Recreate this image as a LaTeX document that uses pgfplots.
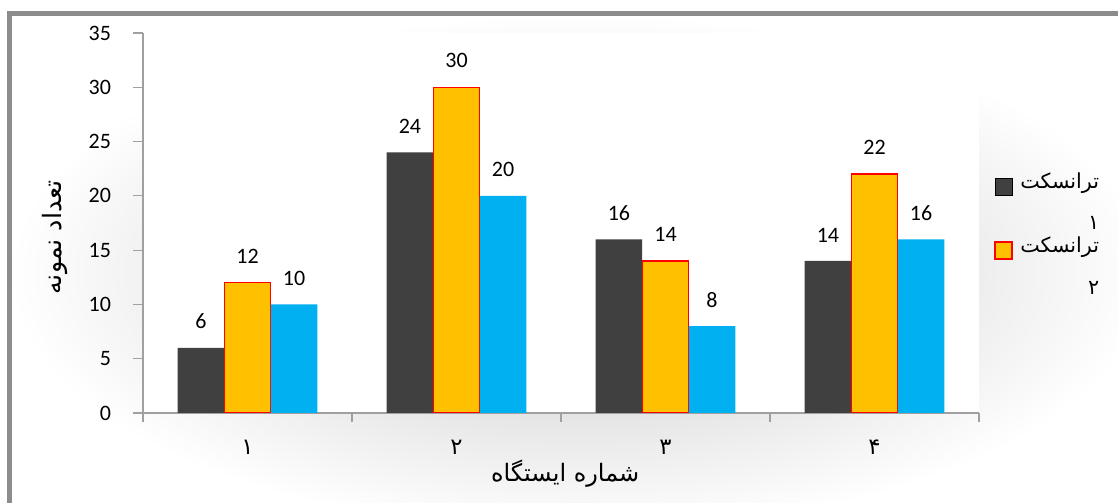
\documentclass[border=0pt]{standalone}
\usepackage{pgfplots}
\pgfplotsset{compat=1.18}
\usepackage{fontspec}
\setmainfont{Carlito}
\newfontfamily\arabicfont[Script=Arabic]{DejaVu Sans}
\TeXXeTstate=1
\definecolor{darkbar}{HTML}{404040}
\definecolor{goldbar}{HTML}{FFC000}
\definecolor{bluebar}{HTML}{00B0F0}
\definecolor{framegray}{HTML}{8C8C8C}
\definecolor{axgray}{HTML}{A0A0A0}
\begin{document}
\begin{tikzpicture}[x=0.75pt,y=0.75pt, font=\fontsize{16}{19}\selectfont]
\useasboundingbox (0,0) rectangle (1118,503);
\shade[inner color=gray!45, outer color=white] (9.5,-30) rectangle (1150,489.5);
\draw[framegray, line width=3.75pt] (9.5,-30) -- (9.5,489.5) -- (1150,489.5);
\begin{axis}[
  at={(107.25pt,67.5pt)}, anchor=south west,
  scale only axis, width=627pt, height=285pt,
  xmin=0.5, xmax=4.5, ymin=0, ymax=35,
  ytick={0,5,...,35},
  xtick={1,2,3,4},
  xticklabels={{\arabicfont\beginR ۱\endR},{\arabicfont\beginR ۲\endR},{\arabicfont\beginR ۳\endR},{\arabicfont\beginR ۴\endR}},
  minor xtick={0.5,1.5,2.5,3.5,4.5},
  major x tick style={draw=none},
  tick align=outside,
  major tick length=7.5pt, minor tick length=7pt,
  axis x line*=bottom, axis y line*=left,
  axis line style={-, draw=axgray, line width=0.8pt},
  tick style={axgray, line width=0.8pt},
  axis background/.style={fill=white},
  ybar=0pt, bar width=34.9pt,
  /pgf/number format/assume math mode=true,
  tick label style={font=\fontsize{16.5}{19}\selectfont},
  nodes near coords,
  every node near coord/.append style={anchor=south, inner sep=0pt, yshift=14pt, black, font=\fontsize{16.5}{19}\selectfont},
  xticklabel style={anchor=center, yshift=-18pt, font=\fontsize{17}{20}\selectfont},
  yticklabel style={anchor=east, xshift=-13pt},
  every axis y label/.style={at={(axis description cs:-0.105,0.462)}, rotate=90, anchor=center, font=\fontsize{19}{22}\selectfont},
  every axis x label/.style={at={(axis description cs:0.505,-0.16)}, anchor=center, font=\fontsize{18}{22}\selectfont},
  ylabel={\arabicfont\beginR تعداد نمونه\endR},
  xlabel={\arabicfont\beginR شماره ایستگاه\endR},
  legend style={at={(1.018,0.64)}, anchor=north west, draw=none, fill=none,
    font=\fontsize{15.5}{31}\selectfont, cells={align=right}, row sep=0pt, inner sep=0pt},
  legend image code/.code={\draw[#1] (0pt,5.6pt) rectangle (12.75pt,18.35pt); \path (16.5pt,6pt);},
]
\addplot[fill=darkbar, draw=none] coordinates {(1,6) (2,24) (3,16) (4,14)};
\addlegendentry{{\arabicfont\beginR ترانسکت\endR}\\{\arabicfont\beginR ۱\endR}}
\addplot[fill=goldbar, draw=red, line width=1pt] coordinates {(1,12) (2,30) (3,14) (4,22)};
\addlegendentry{{\arabicfont\beginR ترانسکت\endR}\\{\arabicfont\beginR ۲\endR}}
\addplot[fill=bluebar, draw=none] coordinates {(1,10) (2,20) (3,8) (4,16)};
\end{axis}
\end{tikzpicture}
\end{document}
